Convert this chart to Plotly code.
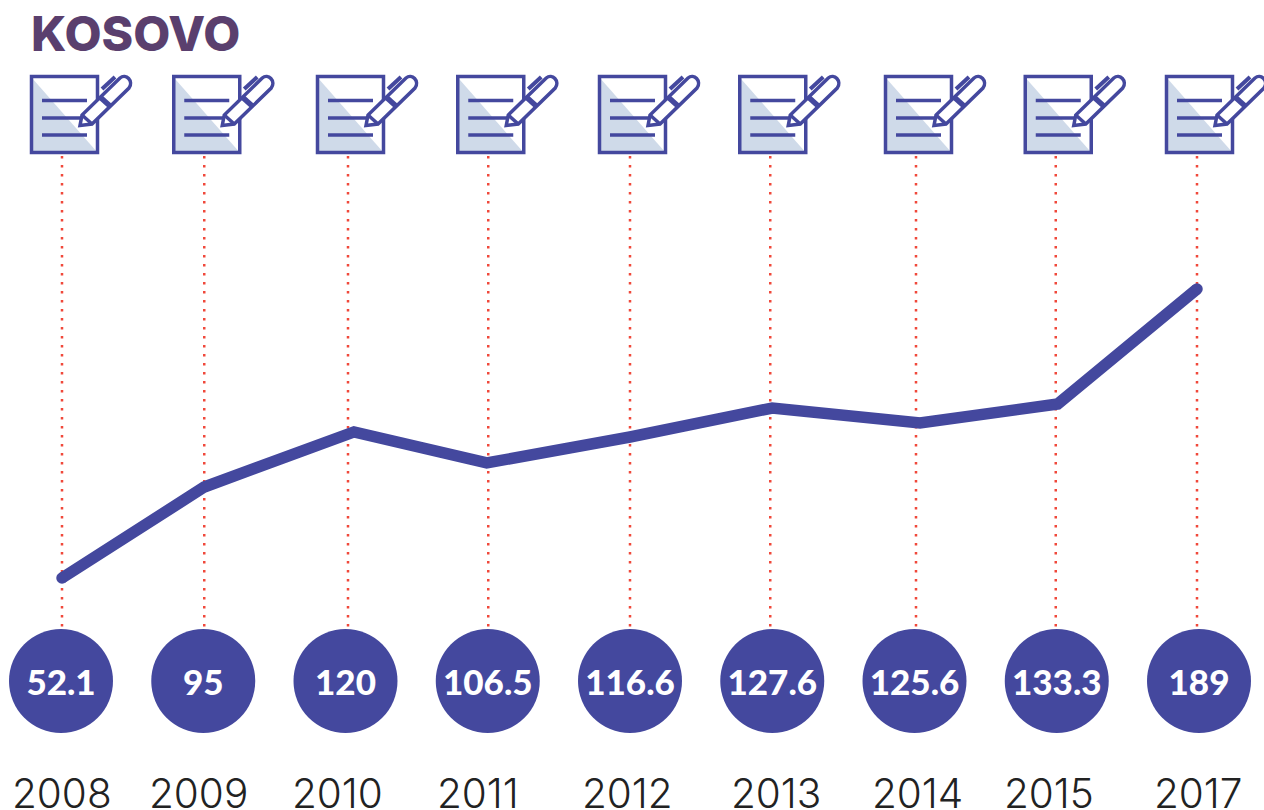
import plotly.graph_objects as go

# Data
years = ["2008", "2009", "2010", "2011", "2012", "2013", "2014", "2015", "2017"]
labels = ["52.1", "95", "120", "106.5", "116.6", "127.6", "125.6", "133.3", "189"]
# Line height as drawn in the picture, on the same scale as the labels
line_values = [52.1, 95.2, 121.3, 106.6, 118.9, 132.6, 125.5, 134.5, 189]
title = "KOSOVO"

# Layout constants
W, H = 1264, 810
X0, STEP = 61, 142.25
PY0, PV0, PPU = 578, 52.1, 2.111
line_nudge = [1, 1, 8.5, -1, 0, 0, 5.5, 1, -2]
dot_nudge = [1, 1, 2.5, 0.5, 0, -2, 1.5, -1, -2]
year_nudge = [1, -5, -8.5, -10, -3, 4, 2.5, -8, -1]
BLUE = "#44489e"
RED = "#f0483a"
TRI = "#cfdae9"
idx = list(range(len(years)))
vtop = PV0 + PY0 / PPU
vbot = PV0 - (H - PY0) / PPU


def flip(s):
    """Pixel offsets written +y down -> the shape's pixel mode, +y up."""
    out, n = [], 0
    for tok in s.replace(",", " ").split():
        if tok.isalpha():
            out.append(tok)
            n = 0
        else:
            out.append(tok if n % 2 == 0 else str(-float(tok)))
            n += 1
    return " ".join(out)


def pshape(i, d, fill=None, lw=0, color=BLUE):
    ax = i + dot_nudge[i] / STEP
    return dict(type="path", xsizemode="pixel", ysizemode="pixel", xref="x", yref="paper",
                xanchor=ax, yanchor=1 - 153 / H, path=flip(d),
                fillcolor=fill or "rgba(0,0,0,0)",
                line=dict(color=color, width=lw), layer="above")


shapes = []
for i in idx:
    ax = i + dot_nudge[i] / STEP
    shapes.append(dict(type="line", xref="x", yref="paper", x0=ax, x1=ax, y0=1 - 156 / H, y1=1 - 628 / H,
                       line=dict(color=RED, width=2.5, dash="2.5px,6.5px"), layer="below"))
    # Icon parts, pixel offsets from the top of the dotted line
    shapes.append(pshape(i, "M -30.5,-76.5 L 35.5,-76.5 L 35.5,-0.5 L -30.5,-0.5 Z", fill="white"))
    shapes.append(pshape(i, "M -30,-75 L 35,-1 L -30,-1 Z", fill=TRI))
    shapes.append(pshape(i, "M -30.5,-76.5 L 35.5,-76.5 L 35.5,-0.5 L -30.5,-0.5 Z", lw=3.5))
    for yy, xe in ((-52.5, 25), (-35, 22), (-18, 25)):
        shapes.append(pshape(i, f"M -20,{yy} L {xe},{yy}", lw=3.5))
    shapes.append(pshape(i, "M 18,-27.5 L 20,-38 L 58,-75 C 64,-80 72,-72 67,-65 L 30,-29 Z", fill="white", lw=3.5))
    shapes.append(pshape(i, "M 38,-56 L 48,-47", lw=5.5))
    shapes.append(pshape(i, "M 40,-64 L 53,-76", lw=4))
    shapes.append(pshape(i, "M 20,-38 L 30,-29", lw=3.5))

fig = go.Figure()
fig.add_trace(go.Scatter(
    x=[i + n / STEP for i, n in zip(idx, line_nudge)], y=line_values, mode="lines+markers",
    line=dict(color=BLUE, width=11.5),
    marker=dict(color=BLUE, size=[11.5, 0, 0, 0, 0, 0, 0, 0, 11.5], opacity=1, line=dict(width=0)),
    hoverinfo="skip", showlegend=False))
fig.add_trace(go.Scatter(
    x=idx, y=[0.5] * len(idx), yaxis="y2", mode="markers",
    marker=dict(color=BLUE, size=104, opacity=1, line=dict(width=0)),
    hoverinfo="skip", showlegend=False))
fig.add_trace(go.Scatter(
    x=idx, y=[0.5] * len(idx), yaxis="y3", mode="text", text=labels,
    textposition="middle center",
    textfont=dict(family="Lato", size=35, color="white", weight=900),
    hoverinfo="skip", showlegend=False))

annotations = [dict(text=y, x=i, xref="x", y=1 - 793 / H, yref="paper", xshift=n, showarrow=False,
                    xanchor="center", yanchor="middle",
                    font=dict(family="Inter", size=40.5, color="#222222", weight=300))
               for i, y, n in zip(idx, years, year_nudge)]
annotations.append(dict(text=title, x=29 / W, xref="paper", y=1 - 33 / H, yref="paper",
                        showarrow=False, xanchor="left", yanchor="middle",
                        font=dict(family="Inter", size=48, color="#5a3f6e", weight=800)))

fig.update_layout(
    width=W, height=H, margin=dict(l=0, r=0, t=0, b=0), plot_bgcolor="white", paper_bgcolor="white",
    xaxis=dict(range=[-X0 / STEP, (W - X0) / STEP], visible=False, fixedrange=True),
    yaxis=dict(range=[vbot, vtop], visible=False, fixedrange=True),
    yaxis2=dict(overlaying="y", range=[0.5 - (H - 681) / H, 0.5 + 681 / H], visible=False, fixedrange=True),
    yaxis3=dict(overlaying="y", range=[0.5 - (H - 686) / H, 0.5 + 686 / H], visible=False, fixedrange=True),
    shapes=shapes, annotations=annotations, showlegend=False)
fig.write_html("out.html", config=dict(displayModeBar=False),
               post_script="document.body.style.margin='0';document.body.style.overflow='hidden';")
